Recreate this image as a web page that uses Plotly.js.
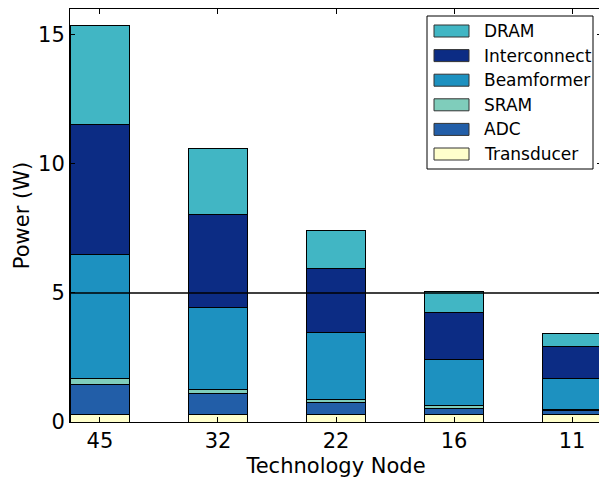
<!DOCTYPE html>
<html>
<head>
<meta charset="utf-8">
<script src="https://cdn.plot.ly/plotly-3.0.1.min.js"></script>
<style>
  html, body { margin: 0; padding: 0; overflow: hidden; background: #fff; }
  #chart { width: 603px; height: 478px; }
</style>
</head>
<body>
<div id="chart"></div>
<script>
// Power breakdown per technology node (W)
const nodes = ['45', '32', '22', '16', '11'];

const transducer   = [0.30, 0.30, 0.30, 0.30, 0.30];
const adc          = [1.17, 0.80, 0.44, 0.23, 0.14];
const sram         = [0.21, 0.14, 0.12, 0.10, 0.05];
const beamformer   = [4.79, 3.18, 2.59, 1.81, 1.20];
const interconnect = [5.04, 3.60, 2.48, 1.82, 1.22];
const dram         = [3.84, 2.56, 1.47, 0.78, 0.50];

const powerBudget = 5;

const series = [
  { name: 'Transducer',   y: transducer,   color: '#ffffcc' },
  { name: 'ADC',          y: adc,          color: '#225ea8' },
  { name: 'SRAM',         y: sram,         color: '#7fcdbb' },
  { name: 'Beamformer',   y: beamformer,   color: '#1d91c0' },
  { name: 'Interconnect', y: interconnect, color: '#0c2c84' },
  { name: 'DRAM',         y: dram,         color: '#41b6c4' }
];

const traces = series.map(s => ({
  type: 'bar',
  name: s.name,
  x: nodes,
  y: s.y,
  width: 0.5,
  showlegend: false,
  marker: { color: s.color, line: { color: '#000', width: 1 } },
  hoverinfo: 'name+y'
}));

const W = 603, H = 478;
const M = { l: 70, r: 1, t: 9, b: 56 };
const plotW = W - M.l - M.r, plotH = H - M.t - M.b;
// pixel -> paper coordinate helpers for the boxed legend
const px = v => (v - M.l) / plotW;
const py = v => (H - M.b - v) / plotH;

const family = 'DejaVu Sans, sans-serif';

// Legend: framed box with wide colour swatches, top entry = top of stack
const legendShapes = [{
  type: 'rect', xref: 'paper', yref: 'paper',
  x0: px(427), x1: px(593), y0: py(169), y1: py(16),
  fillcolor: '#fff', line: { color: '#000', width: 1 }, layer: 'above'
}];
const legendNotes = [];
series.slice().reverse().forEach((s, i) => {
  const cy = 31 + i * 24.6;
  legendShapes.push({
    type: 'rect', xref: 'paper', yref: 'paper',
    x0: px(434), x1: px(469), y0: py(cy + 6), y1: py(cy - 6),
    fillcolor: s.color, line: { color: '#333', width: 1 }, layer: 'above'
  });
  legendNotes.push({
    xref: 'paper', yref: 'paper', x: px(482), y: py(cy),
    xanchor: 'left', yanchor: 'middle', showarrow: false,
    text: s.name, font: { family: family, size: 17, color: '#000' }
  });
});

const layout = {
  width: W,
  height: H,
  margin: M,
  barmode: 'stack',
  paper_bgcolor: '#fff',
  plot_bgcolor: '#fff',
  font: { family: family, color: '#000' },
  showlegend: false,
  xaxis: {
    type: 'category',
    range: [-0.254, 4.254],
    showline: true, linecolor: '#000', linewidth: 1,
    mirror: 'allticks',
    ticks: 'inside', ticklen: 5, tickcolor: '#000',
    showgrid: false, zeroline: false,
    tickfont: { family: family, size: 21, color: '#000' },
    title: { text: 'Technology Node', font: { family: family, size: 21, color: '#000' }, standoff: 6 }
  },
  yaxis: {
    range: [0, 16],
    tickvals: [0, 5, 10, 15],
    showline: true, linecolor: '#000', linewidth: 1,
    mirror: 'allticks',
    ticks: 'inside', ticklen: 5, tickcolor: '#000',
    showgrid: false, zeroline: false,
    tickfont: { family: family, size: 21, color: '#000' },
    title: { text: 'Power (W)', font: { family: family, size: 21, color: '#000' }, standoff: 2 }
  },
  shapes: [{
    type: 'line', xref: 'paper', yref: 'y',
    x0: 0, x1: 1, y0: powerBudget, y1: powerBudget,
    line: { color: '#000', width: 1.5 },
    layer: 'above'
  }].concat(legendShapes),
  annotations: legendNotes
};

Plotly.newPlot('chart', traces, layout, { displayModeBar: false, staticPlot: true });
</script>
</body>
</html>
